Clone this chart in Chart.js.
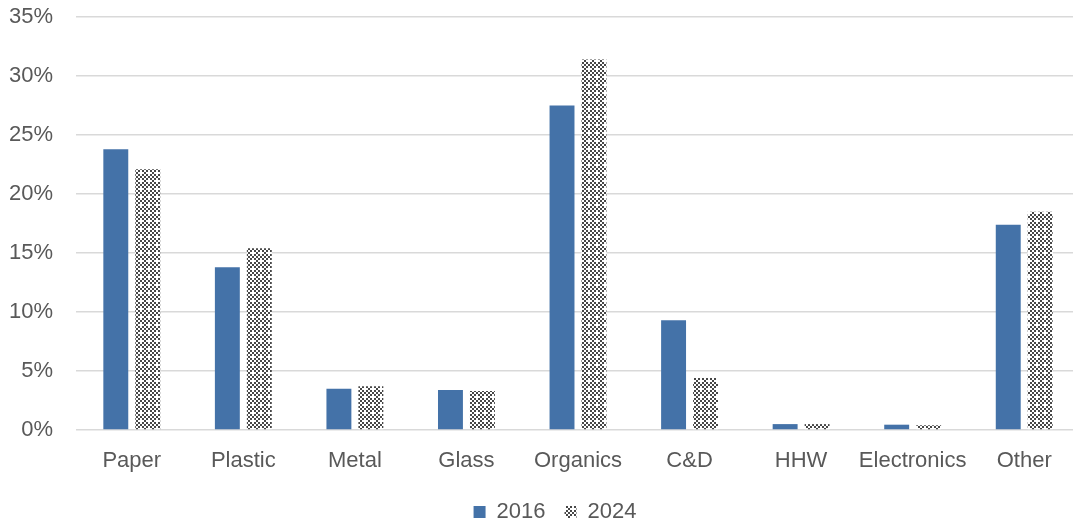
<!DOCTYPE html>
<html>
<head>
<meta charset="utf-8">
<script src="https://cdn.jsdelivr.net/npm/chart.js@4/dist/chart.umd.min.js"></script>
<style>
  html, body { margin: 0; padding: 0; background: #ffffff; overflow: hidden; }
  #wrap { width: 1110px; height: 525px; }
</style>
</head>
<body>
<div id="wrap"><canvas id="chart" width="1110" height="525"></canvas></div>
<script>
// Waste composition by material, share of total (%)
const categories = ['Paper', 'Plastic', 'Metal', 'Glass', 'Organics', 'C&D', 'HHW', 'Electronics', 'Other'];
const share2016 = [23.8, 13.8, 3.5, 3.4, 27.5, 9.3, 0.5, 0.45, 17.4];
const share2024 = [22.1, 15.4, 3.7, 3.3, 31.4, 4.4, 0.5, 0.4, 18.5];
const seriesNames = ['2016', '2024'];
const yTicks = { min: 0, max: 35, step: 5 };

const TEXT = '#595959';
const GRID = '#d9d9d9';
const FONT = "'Liberation Sans', Arial, sans-serif";

// Small checkerboard fill for the 2024 series
function checkerPattern() {
  const c = document.createElement('canvas');
  c.width = 8; c.height = 8;
  const g = c.getContext('2d');
  g.fillStyle = '#ffffff';
  g.fillRect(0, 0, 8, 8);
  g.fillStyle = '#474747';
  for (let y = 0; y < 8; y += 2) {
    for (let x = 0; x < 8; x += 2) {
      if (((x + y) / 2) % 2 === 0) g.fillRect(x, y, 2, 2);
    }
  }
  // lighter speck in the weave
  g.fillStyle = '#ffffff';
  g.fillRect(4, 4, 2, 2);
  return g.createPattern(c, 'repeat');
}

const ctx = document.getElementById('chart').getContext('2d');
new Chart(ctx, {
  type: 'bar',
  data: {
    labels: categories,
    datasets: [
      { label: seriesNames[0], data: share2016, backgroundColor: '#4472a8', borderWidth: 0 },
      { label: seriesNames[1], data: share2024, backgroundColor: checkerPattern(), borderWidth: 0 }
    ]
  },
  options: {
    responsive: false,
    animation: false,
    devicePixelRatio: 1,
    layout: { padding: { top: 17, left: 0, right: 0, bottom: -8 } },
    datasets: { bar: { categoryPercentage: 0.573, barPercentage: 0.78 } },
    plugins: {
      tooltip: { enabled: false },
      legend: {
        position: 'bottom',
        labels: {
          color: TEXT,
          font: { family: FONT, size: 22 },
          boxWidth: 12,
          boxHeight: 12,
          padding: 19
        }
      }
    },
    scales: {
      x: {
        grid: { display: false },
        border: { display: false },
        ticks: { color: TEXT, font: { family: FONT, size: 22 }, padding: 10, maxRotation: 0, autoSkip: false },
        afterFit(s) { s.height = 52; }
      },
      y: {
        min: yTicks.min,
        max: yTicks.max,
        grid: { color: GRID, lineWidth: 1.5, drawTicks: false },
        border: { display: false },
        ticks: {
          stepSize: yTicks.step,
          color: TEXT,
          font: { family: FONT, size: 22 },
          padding: 23,
          callback: v => v + '%'
        },
        afterFit(s) { s.width = 76; s.paddingTop = 0; s.paddingBottom = 0; }
      },
      yRight: {
        position: 'right',
        display: true,
        grid: { display: false },
        border: { display: false },
        ticks: { display: false },
        afterFit(s) { s.width = 30; s.paddingTop = 0; s.paddingBottom = 0; }
      }
    }
  }
});
</script>
</body>
</html>
